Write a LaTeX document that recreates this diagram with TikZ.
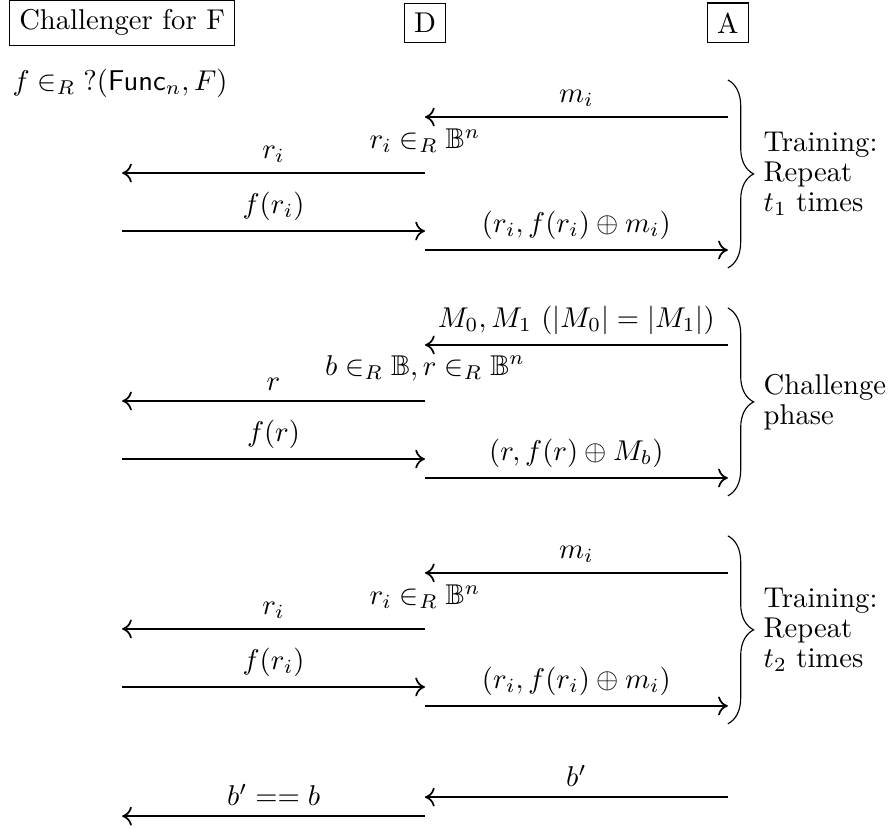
\documentclass[tikz,border=0pt]{standalone}
\usepackage{amsmath,amssymb}
\usetikzlibrary{arrows.meta,positioning,decorations.pathreplacing}

\begin{document}
\begin{tikzpicture}[
  party/.style={draw},
  msg/.style={-{To[length=3.4pt,width=6.6pt]},semithick},
  comp/.style={inner sep=3.33pt},
  brc/.style={decorate,decoration={brace,amplitude=9pt}},
  phase/.style={right=9pt,align=left,font=\linespread{0.875}\selectfont}]
\useasboundingbox (0,0) rectangle (10.92,-10.18);
% parties
\node[party] (chal) at (1.5,-0.28) {Challenger for F};
\node[party] (dist) at (5.22,-0.28) {D};
\node[party] (adv) at (8.94,-0.28) {A};
\node[anchor=base west] (fsel) at (0.03,-1.106) {$f \in_R {?}(\mathsf{Func}_n, F)$};
% message rows
\foreach \n/\y in {1/-1.437,2/-2.125,3/-2.838,4/-3.071,
                   5/-4.237,6/-4.925,7/-5.638,8/-5.871,
                   9/-7.037,10/-7.725,11/-8.438,12/-8.671,
                   13/-9.791,14/-10.025}
  {\coordinate (C\n) at (1.5,\y);
   \coordinate (D\n) at (5.22,\y);
   \coordinate (A\n) at (8.94,\y);}
% brace ends
\foreach \k/\t/\b in {1/-0.982/-3.291,2/-3.782/-6.091,3/-6.582/-8.891}
  {\coordinate (bt\k) at (8.94,\t);
   \coordinate (bb\k) at (8.94,\b);}

% training 1
\draw[msg] (A1) -- node[above] {$m_i$} (D1);
\node[comp,above=3.5pt of D2] (rnd1) {$r_i \in_R \mathbb{B}^n$};
\draw[msg] (D2) -- node[above] {$r_i$} (C2);
\draw[msg] (C3) -- node[above] {$f(r_i)$} (D3);
\draw[msg] (D4) -- node[above] {$(r_i, f(r_i) \oplus m_i)$} (A4);
\draw[brc] (bt1) -- node[phase] {Training:\\Repeat\\$t_1$ times} (bb1);

% challenge
\draw[msg] (A5) -- node[above] {$M_0, M_1\ (|M_0| = |M_1|)$} (D5);
\node[comp,above=3.5pt of D6] (rnd2) {$b \in_R \mathbb{B}, r \in_R \mathbb{B}^n$};
\draw[msg] (D6) -- node[above] {$r$} (C6);
\draw[msg] (C7) -- node[above] {$f(r)$} (D7);
\draw[msg] (D8) -- node[above] {$(r, f(r) \oplus M_b)$} (A8);
\draw[brc] (bt2) -- node[phase] {Challenge\\phase} (bb2);

% training 2
\draw[msg] (A9) -- node[above] {$m_i$} (D9);
\node[comp,above=3.5pt of D10] (rnd3) {$r_i \in_R \mathbb{B}^n$};
\draw[msg] (D10) -- node[above] {$r_i$} (C10);
\draw[msg] (C11) -- node[above] {$f(r_i)$} (D11);
\draw[msg] (D12) -- node[above] {$(r_i, f(r_i) \oplus m_i)$} (A12);
\draw[brc] (bt3) -- node[phase] {Training:\\Repeat\\$t_2$ times} (bb3);

% guess
\draw[msg] (A13) -- node[above] {$b'$} (D13);
\draw[msg] (D14) -- node[above] {$b' == b$} (C14);
\end{tikzpicture}
\end{document}
